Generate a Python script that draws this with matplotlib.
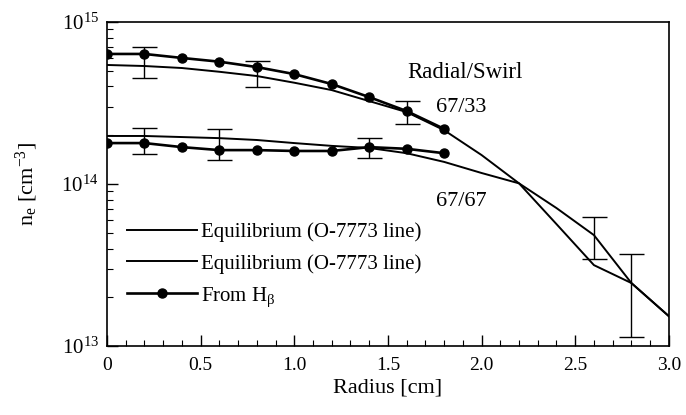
import matplotlib
matplotlib.use('Agg')
from matplotlib import pyplot as plt
from matplotlib import ticker

plt.rcParams['font.family'] = 'Liberation Serif'
plt.rcParams['mathtext.fontset'] = 'custom'
plt.rcParams['mathtext.rm'] = 'Liberation Serif'
plt.rcParams['mathtext.it'] = 'Liberation Serif:italic'

# Radius [cm]
radius_eq = [0.0, 0.2, 0.4, 0.6, 0.8, 1.0, 1.2, 1.4, 1.6, 1.8, 2.0, 2.2, 2.4, 2.6, 2.8, 3.0]
radius_hb = [0.0, 0.2, 0.4, 0.6, 0.8, 1.0, 1.2, 1.4, 1.6, 1.8]

# equilibrium profiles (O-7773 line)
eq_6733 = [5.43e14, 5.35e14, 5.20e14, 4.93e14, 4.64e14, 4.22e14, 3.80e14, 3.25e14,
           2.78e14, 2.15e14, 1.51e14, 1.01e14, 5.66e13, 3.16e13, 2.45e13, 1.53e13]
eq_6767 = [1.98e14, 1.98e14, 1.95e14, 1.92e14, 1.87e14, 1.79e14, 1.72e14, 1.67e14,
           1.55e14, 1.37e14, 1.17e14, 1.01e14, 7.11e13, 4.84e13, 2.45e13, 1.53e13]

# from H-beta
hb_6733 = [6.35e14, 6.35e14, 6.00e14, 5.69e14, 5.27e14, 4.77e14, 4.14e14, 3.44e14, 2.82e14, 2.19e14]
hb_6767 = [1.79e14, 1.79e14, 1.69e14, 1.62e14, 1.62e14, 1.60e14, 1.60e14, 1.69e14, 1.65e14, 1.55e14]

# error bars: position, low, high
err_x = [0.2, 0.8, 1.6, 0.2, 0.6, 1.4, 2.6, 2.8]
err_lo = [4.51e14, 3.97e14, 2.34e14, 1.53e14, 1.41e14, 1.45e14, 3.44e13, 1.14e13]
err_hi = [7.01e14, 5.74e14, 3.25e14, 2.22e14, 2.19e14, 1.92e14, 6.25e13, 3.70e13]

fig = plt.figure(figsize=(6.86, 4.15), dpi=100)
ax = fig.add_axes([0.156, 0.166, 0.819, 0.781])

ax.plot(radius_eq, eq_6733, color='black', lw=1.4, label='Equilibrium (O-7773 line)')
ax.plot(radius_eq, eq_6767, color='black', lw=1.4, label='Equilibrium (O-7773 line)')
ax.plot(radius_hb, hb_6733, color='black', lw=1.9, marker='o', ms=6.5, label=r'From H$_{\mathrm{β}}$')
ax.plot(radius_hb, hb_6767, color='black', lw=1.9, marker='o', ms=6.5)

# draw bars as low..high through the midpoint (log)
mid = [(lo * hi) ** 0.5 for lo, hi in zip(err_lo, err_hi)]
ax.errorbar(err_x, mid, yerr=[[m - lo for m, lo in zip(mid, err_lo)],
                              [hi - m for m, hi in zip(mid, err_hi)]],
            fmt='none', ecolor='black', elinewidth=1.0, capsize=9, capthick=1.0)

ax.set_yscale('log')
ax.set_xlim(0, 3.0)
ax.set_ylim(1e13, 1e15)
ax.set_xticks([0, 0.5, 1.0, 1.5, 2.0, 2.5, 3.0])
ax.set_xticklabels(['0', '0.5', '1.0', '1.5', '2.0', '2.5', '3.0'])
ax.xaxis.set_minor_locator(ticker.MultipleLocator(0.1))
ax.yaxis.set_major_locator(ticker.LogLocator(base=10))
ax.yaxis.set_minor_locator(ticker.LogLocator(base=10, subs=range(2, 10)))
ax.yaxis.set_minor_formatter(ticker.NullFormatter())
ax.tick_params(which='both', direction='in', top=False, right=False, labelsize=14)
ax.tick_params(axis='y', labelsize=15, pad=6)
ax.tick_params(which='major', length=8, width=1)
ax.tick_params(which='minor', length=4, width=0.8)
ax.tick_params(axis='x', pad=8)
for side in ax.spines:
    ax.spines[side].set_linewidth(1.2)

ax.set_xlabel('Radius [cm]', fontsize=16, labelpad=3)
ax.set_ylabel(r'n$_\mathrm{e}$ [cm$^{\mathrm{-3}}$]', fontsize=16)
ax.yaxis.set_label_coords(-0.12, 0.5)

ax.text(0.535, 0.845, 'Radial/Swirl', transform=ax.transAxes, fontsize=16.5, va='center')
ax.text(0.585, 0.737, '67/33', transform=ax.transAxes, fontsize=16, va='center')
ax.text(0.585, 0.447, '67/67', transform=ax.transAxes, fontsize=16, va='center')

ax.legend(loc='lower left', bbox_to_anchor=(0.02, 0.09), frameon=False, fontsize=15,
          handlelength=3.4, handletextpad=0.15, labelspacing=0.55, borderaxespad=0)

fig.savefig('out.png', dpi=100)
